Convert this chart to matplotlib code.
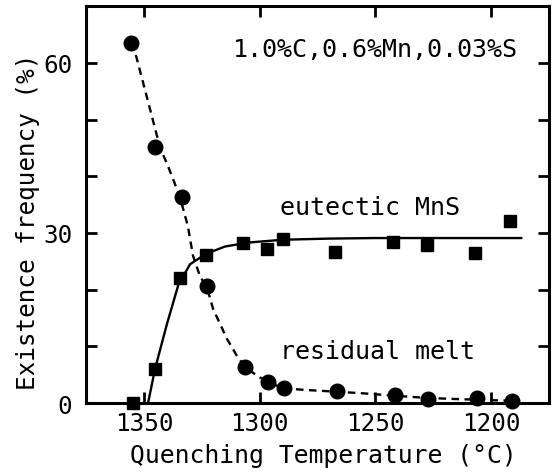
import matplotlib
matplotlib.use("Agg")
import matplotlib.pyplot as plt
from matplotlib.ticker import MultipleLocator, FixedLocator

# === DATA ===
# residual melt: circles
melt_temp = [1355.6, 1345.2, 1333.5, 1322.7, 1306.3, 1296.4, 1289.5, 1266.6, 1241.5, 1227.3, 1206.1, 1191.0]
melt_freq = [63.5, 45.2, 36.4, 20.7, 6.4, 3.7, 2.6, 2.1, 1.5, 0.7, 0.9, 0.4]

# eutectic MnS: squares
mns_temp = [1354.7, 1345.2, 1334.4, 1323.2, 1307.2, 1296.8, 1289.9, 1267.4, 1242.4, 1227.7, 1207.0, 1191.8]
mns_freq = [0.0, 6.0, 22.0, 26.1, 28.2, 27.2, 29.0, 26.6, 28.4, 27.9, 26.5, 32.1]

# hand-drawn guide curves
melt_curve_t = [1355.6, 1353.8, 1350.4, 1346.5, 1343, 1340, 1337.4, 1334.5, 1331, 1328.8,
                1325.8, 1322.7, 1320.1, 1314.1, 1309.8, 1306.3, 1301.1, 1296.4, 1289.9, 1280,
                1267, 1255, 1242, 1228, 1215, 1200, 1191]
melt_curve_f = [63.5, 61.9, 56.6, 50.5, 45.0, 42.2, 39.5, 36.4, 31.2, 26.0,
                22.4, 20.3, 16.6, 11.3, 8.3, 6.4, 4.8, 3.7, 2.6, 2.3,
                2.0, 1.7, 1.3, 0.9, 0.7, 0.5, 0.4]
mns_curve_t = [1348.2, 1345.2, 1340, 1335, 1330, 1323.2, 1315, 1305, 1290, 1270, 1250, 1187]
mns_curve_f = [0.0, 6.0, 14.0, 21.0, 24.5, 26.3, 27.6, 28.3, 28.8, 29.0, 29.1, 29.1]

x_ticks = [1350, 1300, 1250, 1200]
y_ticks = [0, 30, 60]

# === PLOT ===
plt.rcParams['font.family'] = ['DejaVu Sans Mono']
fig = plt.figure(figsize=(5.6, 4.77), dpi=100)
ax = fig.add_axes([0.1536, 0.153, 0.8268, 0.832])

ax.plot(melt_curve_t, melt_curve_f, color='black', lw=1.7, dashes=(3.2, 2.3))
ax.plot(mns_curve_t, mns_curve_f, color='black', lw=1.7)
ax.plot(melt_temp, melt_freq, 'o', color='black', ms=10.5, clip_on=False)
ax.plot(mns_temp, mns_freq, 's', color='black', ms=9, clip_on=False)

ax.set_xlim(1375, 1175)
ax.set_ylim(0, 70)
ax.xaxis.set_major_locator(FixedLocator(x_ticks))
ax.yaxis.set_major_locator(FixedLocator(y_ticks))
ax.yaxis.set_minor_locator(MultipleLocator(10))

for s in ax.spines.values():
    s.set_linewidth(2.2)
ax.tick_params(which='both', direction='in', length=8, width=2.0,
               top=True, right=True, labelsize=17.5)
ax.tick_params(axis='x', pad=6)
ax.tick_params(axis='y', pad=10)

ax.set_xlabel("Quenching Temperature (°C)", fontsize=17.8)
ax.set_ylabel("Existence frequency (%)", fontsize=17.5)
ax.xaxis.set_label_coords(0.512, -0.10)
ax.yaxis.set_label_coords(-0.10, 0.46)

ax.text(0.317, 0.892, "1.0%C,0.6%Mn,0.03%S", transform=ax.transAxes,
        fontsize=18, va='center', ha='left')
ax.text(0.419, 0.494, "eutectic MnS", transform=ax.transAxes,
        fontsize=18, va='center', ha='left')
ax.text(0.419, 0.131, "residual melt", transform=ax.transAxes,
        fontsize=18, va='center', ha='left')

fig.savefig("out.png", dpi=100)
